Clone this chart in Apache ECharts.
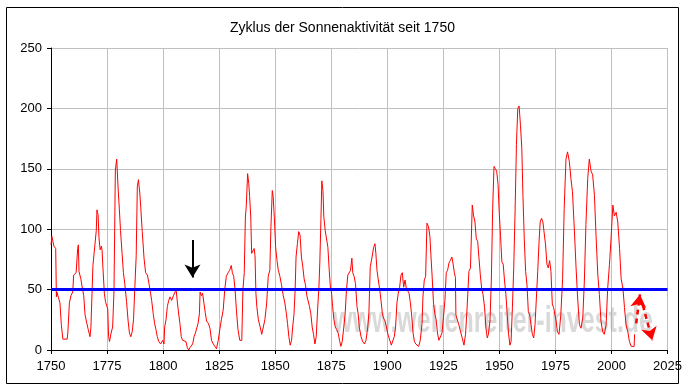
<!DOCTYPE html>
<html>
<head>
<meta charset="utf-8">
<script src="https://cdn.jsdelivr.net/npm/echarts@6/dist/echarts.min.js"></script>
<style>html,body{margin:0;padding:0;background:#fff}#c{width:685px;height:389px}</style>
</head>
<body>
<div id="c"></div>
<script>
// Sunspot number readings (year, value)
var years = [1750.0,1750.4,1751.3,1752.1,1752.4,1752.6,1753.3,1754.0,1754.6,1755.3,1756.0,1757.2,1757.5,1758.2,1758.9,1759.7,1760.1,1761.2,1761.9,1762.2,1762.5,1763.3,1764.0,1764.6,1765.2,1766.0,1766.6,1767.4,1767.8,1768.3,1768.7,1769.5,1770.2,1770.5,1771.0,1771.4,1771.9,1772.5,1772.8,1773.2,1773.8,1774.3,1775.3,1775.7,1776.1,1776.8,1777.5,1778.1,1778.7,1779.3,1779.9,1780.5,1781.0,1781.7,1782.3,1782.9,1783.7,1784.4,1785.0,1785.6,1786.2,1786.8,1787.4,1788.0,1788.5,1789.0,1789.6,1790.0,1790.7,1791.5,1792.2,1793.0,1793.7,1794.4,1794.9,1795.6,1796.2,1796.8,1797.4,1798.1,1798.9,1799.8,1800.4,1800.7,1801.3,1801.9,1802.5,1803.1,1803.8,1804.6,1805.2,1805.8,1806.4,1807.0,1807.5,1808.1,1808.7,1809.3,1810.2,1810.8,1811.4,1812.0,1812.6,1813.2,1813.8,1814.4,1815.0,1815.6,1816.2,1816.5,1817.1,1817.6,1818.2,1818.8,1819.4,1820.2,1820.9,1821.6,1822.4,1823.1,1823.8,1824.6,1825.3,1826.0,1826.8,1827.5,1828.2,1829.0,1829.7,1830.4,1830.9,1831.5,1832.1,1832.7,1833.4,1834.2,1835.1,1835.6,1836.2,1836.7,1837.1,1837.7,1838.2,1838.6,1839.1,1839.5,1840.1,1840.6,1841.0,1841.4,1841.8,1842.5,1843.3,1844.0,1844.7,1845.4,1846.2,1846.9,1847.6,1848.1,1848.7,1849.1,1849.6,1850.2,1850.8,1851.4,1852.1,1852.8,1853.6,1854.3,1855.0,1855.5,1856.1,1856.7,1857.3,1857.8,1858.4,1858.9,1859.3,1859.9,1860.5,1861.1,1861.7,1862.3,1862.9,1863.5,1864.1,1864.7,1865.3,1865.9,1866.5,1867.1,1867.7,1868.3,1868.9,1869.5,1869.9,1870.4,1870.8,1871.3,1871.7,1872.3,1872.9,1873.5,1874.1,1874.7,1875.1,1875.6,1876.2,1876.8,1877.4,1878.1,1878.7,1879.3,1879.9,1880.6,1881.2,1881.8,1882.4,1883.0,1883.6,1884.2,1884.6,1885.2,1885.8,1886.5,1887.0,1887.5,1888.3,1889.0,1889.8,1890.5,1891.3,1891.8,1892.4,1893.2,1893.9,1894.5,1894.9,1895.4,1896.0,1896.6,1897.2,1897.8,1898.4,1899.0,1899.6,1900.3,1901.1,1901.8,1902.6,1903.1,1903.7,1904.3,1904.9,1905.5,1906.1,1906.7,1907.3,1907.9,1908.5,1909.1,1909.7,1910.3,1910.9,1911.5,1912.1,1912.7,1913.3,1914.0,1914.7,1915.5,1915.9,1916.5,1917.1,1917.7,1918.4,1919.0,1919.5,1920.0,1920.6,1921.2,1921.8,1922.4,1923.0,1923.6,1924.4,1925.1,1925.7,1926.3,1926.9,1927.5,1928.1,1928.8,1929.3,1929.9,1930.4,1930.6,1931.2,1931.9,1932.7,1933.4,1934.2,1934.9,1935.6,1936.4,1937.1,1937.9,1938.5,1939.1,1939.7,1940.3,1940.9,1941.5,1942.1,1942.7,1943.4,1944.0,1944.6,1945.1,1945.8,1946.4,1947.0,1947.6,1948.2,1948.8,1949.4,1949.9,1950.5,1951.1,1951.7,1952.3,1952.9,1953.5,1954.1,1954.7,1955.2,1955.8,1956.4,1957.0,1957.6,1958.2,1958.8,1959.4,1960.0,1960.5,1961.1,1961.7,1962.3,1962.9,1963.5,1964.1,1964.7,1965.3,1965.9,1966.5,1967.1,1967.7,1968.2,1968.8,1969.4,1970.0,1970.6,1971.2,1971.8,1972.4,1973.0,1973.6,1974.2,1974.8,1975.3,1975.9,1976.6,1977.4,1978.2,1978.9,1979.7,1980.4,1981.2,1981.9,1982.6,1983.4,1984.2,1984.9,1985.7,1986.4,1987.2,1987.9,1988.6,1989.4,1990.1,1990.9,1991.6,1992.4,1993.1,1993.9,1994.6,1995.3,1996.1,1996.8,1997.6,1998.3,1999.1,1999.8,2000.6,2001.3,2002.1,2002.8,2003.6,2004.3,2005.1,2005.8,2006.5,2007.3,2008.0,2008.8,2009.5,2010.1,2010.3];
var sunspots = [87,94,86,84,44,48,48,39,21,9,8,9,14,39,45,48,62,64,84,87,65,59,51,45,29,22,17,11,19,47,70,70,99,116,112,93,83,86,82,67,47,40,34,11,7,14,19,49,149,158,135,116,99,80,64,55,40,24,14,11,15,25,52,78,135,141,130,119,98,76,64,62,55,47,41,30,22,17,11,7,5,8,5,19,25,36,41,44,41,45,45,50,39,29,22,11,8,7,7,2,0,2,3,5,11,14,14,22,30,48,45,47,39,31,24,22,18,8,5,3,1,8,17,25,33,50,61,64,66,70,64,61,50,33,17,8,8,50,64,110,119,146,138,127,110,80,79,84,78,47,36,25,19,13,14,25,39,61,66,102,132,127,110,85,74,66,61,54,45,39,30,22,11,4,8,19,30,50,77,88,98,95,77,69,59,54,45,44,36,30,19,13,5,11,33,52,72,108,140,132,110,99,99,85,66,50,48,36,25,19,17,14,8,3,7,19,30,50,62,61,66,76,64,61,55,36,30,19,11,7,5,8,19,31,69,77,85,88,80,66,58,50,41,30,26,24,19,13,8,4,5,11,19,39,47,52,62,64,52,58,51,51,47,39,28,14,7,5,4,3,8,22,44,58,61,105,102,94,77,61,39,30,25,14,8,8,14,28,41,64,66,72,74,77,72,64,60,29,28,21,15,10,4,13,35,65,68,120,111,106,92,90,76,62,51,46,35,18,10,13,24,57,117,152,150,148,137,115,95,73,71,57,46,29,13,4,7,35,68,115,170,200,202,186,167,128,92,65,54,32,29,21,13,10,21,43,65,90,106,109,106,106,87,71,68,74,65,38,35,29,24,15,13,29,59,117,158,164,156,142,131,101,68,43,21,18,27,57,104,142,158,148,145,128,95,62,46,24,15,13,21,51,71,92,120,111,114,106,84,59,51,35,21,15,7,3,3,3,13];
var threshold = 50;
var arrowMinimum = [[1813.1, 91], [1813.1, 60]];
var arrowUp = [[2011.0, 22], [2012.7, 46]];
var arrowDown = [[2014.0, 37], [2018.2, 8]];
var xTicks = {min: 1750, max: 2025, step: 25};
var yTicks = {min: 0, max: 250, step: 50};

var chart = echarts.init(document.getElementById('c'));
var font = "'Liberation Sans', Arial, sans-serif";
var seriesData = years.map(function (y, i) { return [y, sunspots[i]]; });

chart.setOption({
  animation: false,
  backgroundColor: '#ffffff',
  title: {
    text: 'Zyklus der Sonnenaktivität seit 1750',
    left: 'center', top: 16,
    textStyle: {fontFamily: font, fontSize: 14, fontWeight: 'normal', color: '#000'}
  },
  grid: {left: 51, right: 17, top: 48, bottom: 39},
  xAxis: {
    type: 'value', min: xTicks.min, max: xTicks.max, interval: xTicks.step,
    axisLine: {lineStyle: {color: '#000', width: 1}},
    axisTick: {show: true, length: 4, lineStyle: {color: '#000'}},
    axisLabel: {fontFamily: font, fontSize: 13, color: '#000', margin: 10, formatter: function (v) { return String(v); }},
    splitLine: {show: true, lineStyle: {color: '#c0c0c0', width: 1}}
  },
  yAxis: {
    type: 'value', min: yTicks.min, max: yTicks.max, interval: yTicks.step,
    axisLine: {show: true, lineStyle: {color: '#000', width: 1}},
    axisTick: {show: true, length: 4, lineStyle: {color: '#000'}},
    axisLabel: {fontFamily: font, fontSize: 13, color: '#000', margin: 9},
    splitLine: {show: true, lineStyle: {color: '#c0c0c0', width: 1}}
  },
  graphic: [
    {type: 'rect', shape: {x: 6.5, y: 7.5, width: 672, height: 376}, style: {fill: 'none', stroke: '#000', lineWidth: 1}, z: 0},
    {type: 'text', x: 333, y: 303, scaleY: 1.5, z: 1, style: {text: 'www.wellenreiter-invest.de', font: 'bold 25px ' + font, fill: 'rgba(160,160,160,0.4)', textVerticalAlign: 'top'}}
  ],
  series: [
    {
      type: 'line', data: seriesData, showSymbol: false, z: 3,
      lineStyle: {color: '#ff0000', width: 1}
    },
    {
      type: 'line', data: [], z: 5,
      markLine: {
        silent: true, label: {show: false}, symbol: ['none', 'none'],
        lineStyle: {color: '#0000ff', width: 3, type: 'solid'},
        data: [{yAxis: threshold}]
      }
    },
    {
      type: 'line', data: [], z: 6,
      markLine: {
        silent: true, label: {show: false}, symbol: ['none', 'arrow'], symbolSize: [12, 13],
        data: [
          [{coord: arrowMinimum[0], lineStyle: {color: '#000', width: 2, type: 'solid'}},
           {coord: arrowMinimum[1]}],
          [{coord: arrowUp[0], lineStyle: {color: '#ff0000', width: 2.5, type: [5, 4]}},
           {coord: arrowUp[1]}],
          [{coord: arrowDown[0], lineStyle: {color: '#ff0000', width: 2.5, type: [5, 4]}},
           {coord: arrowDown[1]}]
        ]
      }
    }
  ]
});
</script>
</body>
</html>
